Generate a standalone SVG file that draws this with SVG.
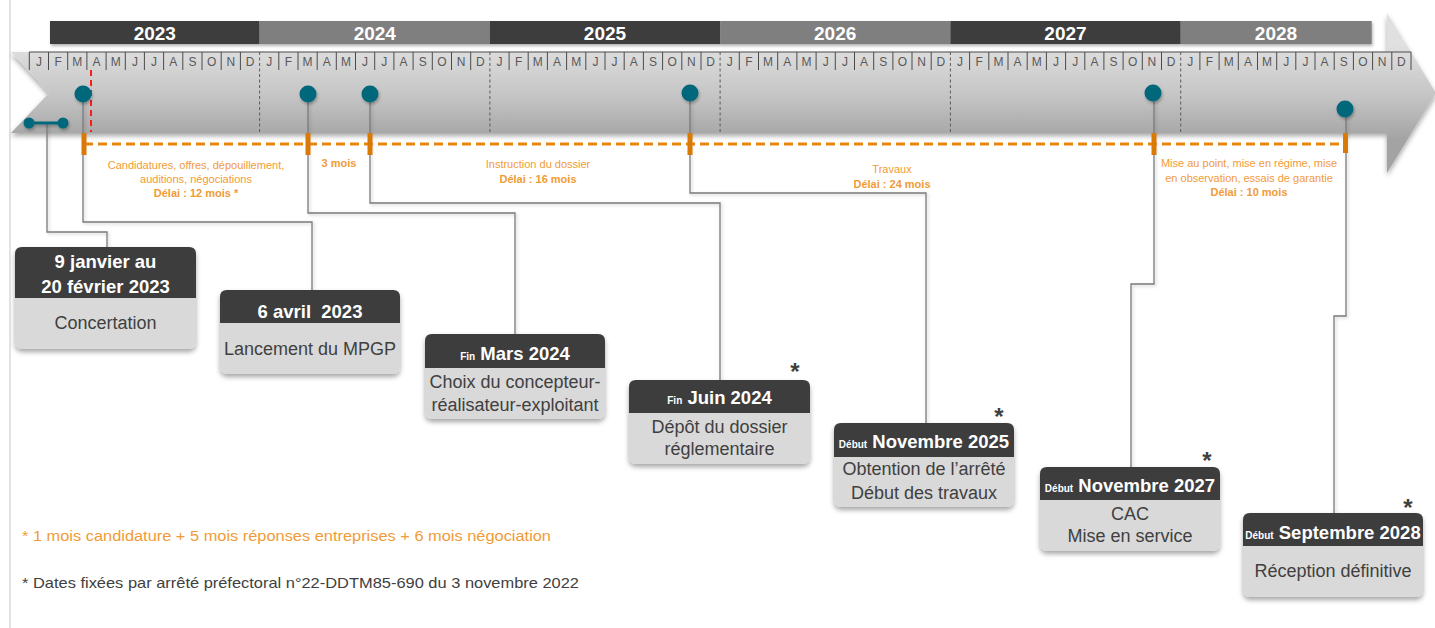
<svg xmlns="http://www.w3.org/2000/svg" width="1435" height="628" viewBox="0 0 1435 628">
<defs>
<linearGradient id="gArrow" gradientUnits="userSpaceOnUse" x1="0" y1="45" x2="0" y2="140">
<stop offset="0" stop-color="#e0e0e0"/>
<stop offset="0.55" stop-color="#c4c4c4"/>
<stop offset="1" stop-color="#a3a3a3"/>
</linearGradient>
<filter id="sh" x="-10%" y="-10%" width="120%" height="140%"><feDropShadow dx="0" dy="3" stdDeviation="2.5" flood-color="#000" flood-opacity="0.35"/></filter>
<filter id="shs" x="-30%" y="-30%" width="160%" height="160%"><feDropShadow dx="1" dy="2" stdDeviation="1.5" flood-color="#000" flood-opacity="0.3"/></filter>
<filter id="shl" x="-20%" y="-5%" width="140%" height="110%"><feDropShadow dx="1.5" dy="1.5" stdDeviation="1.5" flood-color="#000" flood-opacity="0.2"/></filter>
</defs>
<style>
text{font-family:'Liberation Sans',Arial,sans-serif}
.yr{font-weight:bold;font-size:19px;fill:#fff;text-anchor:middle}
.mo{font-size:12px;fill:#595959;text-anchor:middle}
.or{font-size:11px;fill:#f19b37;text-anchor:middle}
.b{font-weight:bold}
.ttl{font-weight:bold;font-size:18.5px;fill:#fff;text-anchor:middle}
.pre{font-size:10px}
.bd{font-size:18px;fill:#404040;text-anchor:middle}
.ast{font-weight:bold;font-size:24px;fill:#404040;text-anchor:middle}
.hd{fill:#3d3d3d}
.bx{fill:#d9d9d9}
.dot{fill:#05677a}
.tick{fill:#d97a06}
</style>
<rect x="0" y="0" width="1435" height="628" fill="#fff"/>
<line x1="10" y1="0" x2="10" y2="628" stroke="#c8c8c8" stroke-width="1"/>

<!-- timeline arrow -->
<g id="timeline">
<polygon points="11,52 1387,52 1387,13 1436,93 1387,173 1387,133 11,133 49,93" fill="url(#gArrow)" filter="url(#sh)"/>
<g filter="url(#shs)">
<rect x="50" y="21" width="209.6" height="23" fill="#3d3d3d"/>
<rect x="259.6" y="21" width="230.3" height="23" fill="#7f7f7f"/>
<rect x="489.9" y="21" width="230.2" height="23" fill="#3d3d3d"/>
<rect x="720.1" y="21" width="230.3" height="23" fill="#7f7f7f"/>
<rect x="950.4" y="21" width="230.3" height="23" fill="#3d3d3d"/>
<rect x="1180.7" y="21" width="191" height="23" fill="#7f7f7f"/>
</g>
<text class="yr" x="154.8" y="40">2023</text>
<text class="yr" x="374.8" y="40">2024</text>
<text class="yr" x="605" y="40">2025</text>
<text class="yr" x="835.2" y="40">2026</text>
<text class="yr" x="1065.5" y="40">2027</text>
<text class="yr" x="1276" y="40">2028</text>
<path d="M29.3,52 H1411" stroke="#4a4a4a" stroke-width="1" fill="none"/>
<path d="M29.3,52V70M48.5,52V70M67.7,52V70M86.9,52V70M106.1,52V70M125.3,52V70M144.4,52V70M163.6,52V70M182.8,52V70M202,52V70M221.2,52V70M240.4,52V70M278.8,52V70M298,52V70M317.2,52V70M336.3,52V70M355.5,52V70M374.7,52V70M393.9,52V70M413.1,52V70M432.3,52V70M451.5,52V70M470.7,52V70M509.1,52V70M528.2,52V70M547.4,52V70M566.6,52V70M585.8,52V70M605,52V70M624.2,52V70M643.4,52V70M662.6,52V70M681.8,52V70M701,52V70M739.3,52V70M758.5,52V70M777.7,52V70M796.9,52V70M816.1,52V70M835.3,52V70M854.5,52V70M873.7,52V70M892.9,52V70M912,52V70M931.2,52V70M969.6,52V70M988.8,52V70M1008,52V70M1027.2,52V70M1046.4,52V70M1065.6,52V70M1084.8,52V70M1103.9,52V70M1123.1,52V70M1142.3,52V70M1161.5,52V70M1199.9,52V70M1219.1,52V70M1238.3,52V70M1257.5,52V70M1276.7,52V70M1295.8,52V70M1315,52V70M1334.2,52V70M1353.4,52V70M1372.6,52V70M1391.8,52V70M1411,52V70" stroke="#4a4a4a" stroke-width="1" fill="none"/>
<path d="M259.6,52V133M489.9,52V133M720.1,52V133M950.4,52V133M1180.7,52V133" stroke="#5a5a5a" stroke-width="1" stroke-dasharray="3 2.5" fill="none"/>
<text class="mo" x="38.9" y="66">J</text><text class="mo" x="58.1" y="66">F</text><text class="mo" x="77.3" y="66">M</text><text class="mo" x="96.5" y="66">A</text><text class="mo" x="115.7" y="66">M</text><text class="mo" x="134.9" y="66">J</text><text class="mo" x="154" y="66">J</text><text class="mo" x="173.2" y="66">A</text><text class="mo" x="192.4" y="66">S</text><text class="mo" x="211.6" y="66">O</text><text class="mo" x="230.8" y="66">N</text><text class="mo" x="250" y="66">D</text>
<text class="mo" x="269.2" y="66">J</text><text class="mo" x="288.4" y="66">F</text><text class="mo" x="307.6" y="66">M</text><text class="mo" x="326.8" y="66">A</text><text class="mo" x="345.9" y="66">M</text><text class="mo" x="365.1" y="66">J</text><text class="mo" x="384.3" y="66">J</text><text class="mo" x="403.5" y="66">A</text><text class="mo" x="422.7" y="66">S</text><text class="mo" x="441.9" y="66">O</text><text class="mo" x="461.1" y="66">N</text><text class="mo" x="480.3" y="66">D</text>
<text class="mo" x="499.5" y="66">J</text><text class="mo" x="518.7" y="66">F</text><text class="mo" x="537.8" y="66">M</text><text class="mo" x="557" y="66">A</text><text class="mo" x="576.2" y="66">M</text><text class="mo" x="595.4" y="66">J</text><text class="mo" x="614.6" y="66">J</text><text class="mo" x="633.8" y="66">A</text><text class="mo" x="653" y="66">S</text><text class="mo" x="672.2" y="66">O</text><text class="mo" x="691.4" y="66">N</text><text class="mo" x="710.6" y="66">D</text>
<text class="mo" x="729.7" y="66">J</text><text class="mo" x="748.9" y="66">F</text><text class="mo" x="768.1" y="66">M</text><text class="mo" x="787.3" y="66">A</text><text class="mo" x="806.5" y="66">M</text><text class="mo" x="825.7" y="66">J</text><text class="mo" x="844.9" y="66">J</text><text class="mo" x="864.1" y="66">A</text><text class="mo" x="883.3" y="66">S</text><text class="mo" x="902.5" y="66">O</text><text class="mo" x="921.6" y="66">N</text><text class="mo" x="940.8" y="66">D</text>
<text class="mo" x="960" y="66">J</text><text class="mo" x="979.2" y="66">F</text><text class="mo" x="998.4" y="66">M</text><text class="mo" x="1017.6" y="66">A</text><text class="mo" x="1036.8" y="66">M</text><text class="mo" x="1056" y="66">J</text><text class="mo" x="1075.2" y="66">J</text><text class="mo" x="1094.4" y="66">A</text><text class="mo" x="1113.5" y="66">S</text><text class="mo" x="1132.7" y="66">O</text><text class="mo" x="1151.9" y="66">N</text><text class="mo" x="1171.1" y="66">D</text>
<text class="mo" x="1190.3" y="66">J</text><text class="mo" x="1209.5" y="66">F</text><text class="mo" x="1228.7" y="66">M</text><text class="mo" x="1247.9" y="66">A</text><text class="mo" x="1267.1" y="66">M</text><text class="mo" x="1286.3" y="66">J</text><text class="mo" x="1305.4" y="66">J</text><text class="mo" x="1324.6" y="66">A</text><text class="mo" x="1343.8" y="66">S</text><text class="mo" x="1363" y="66">O</text><text class="mo" x="1382.2" y="66">N</text><text class="mo" x="1401.4" y="66">D</text>
<line x1="91" y1="70" x2="91" y2="132" stroke="#ff1a1a" stroke-width="2" stroke-dasharray="6 4"/>
</g>

<!-- connectors -->
<g id="connectors" fill="none" stroke="#7a7a7a" stroke-width="1.3" filter="url(#shl)">
<path d="M47,123 V232 H107 V247"/>
<path d="M83,94 V222 H312 V290"/>
<path d="M308,94 V213 H515 V334"/>
<path d="M370,94 V203 H720 V380"/>
<path d="M690,93 V193 H926 V423"/>
<path d="M1154,93 V284 H1131 V467"/>
<path d="M1346,109 V316 H1334 V513"/>
</g>

<!-- phase line -->
<g id="phases">
<line x1="84" y1="144" x2="1345" y2="144" stroke="#e8850c" stroke-width="3" stroke-dasharray="9 5"/>
<rect class="tick" x="81.5" y="133" width="5" height="22"/>
<rect class="tick" x="305.5" y="133" width="5" height="22"/>
<rect class="tick" x="367.5" y="133" width="5" height="22"/>
<rect class="tick" x="687.5" y="133" width="5" height="22"/>
<rect class="tick" x="1151.5" y="133" width="5" height="22"/>
<rect class="tick" x="1343" y="133" width="5" height="20"/>
<text class="or" x="196" y="169">Candidatures, offres, dépouillement,</text>
<text class="or" x="196" y="183">auditions, négociations</text>
<text class="or b" x="196" y="197">Délai : 12 mois *</text>
<text class="or b" x="339" y="167">3 mois</text>
<text class="or" x="538" y="168">Instruction du dossier</text>
<text class="or b" x="538" y="183">Délai : 16 mois</text>
<text class="or" x="892" y="173">Travaux</text>
<text class="or b" x="892" y="188">Délai : 24 mois</text>
<text class="or" x="1249" y="167">Mise au point, mise en régime, mise</text>
<text class="or" x="1249" y="182">en observation, essais de garantie</text>
<text class="or b" x="1249" y="196">Délai : 10 mois</text>
</g>

<!-- milestones dots -->
<g id="dots" filter="url(#shs)">
<line x1="29" y1="123" x2="63" y2="123" stroke="#05677a" stroke-width="3"/>
<circle class="dot" cx="29" cy="123" r="5.5"/>
<circle class="dot" cx="63" cy="123" r="5.5"/>
<circle class="dot" cx="83" cy="94" r="8.5"/>
<circle class="dot" cx="308" cy="94" r="8.5"/>
<circle class="dot" cx="370" cy="94" r="8.5"/>
<circle class="dot" cx="690" cy="93" r="8.5"/>
<circle class="dot" cx="1153" cy="93" r="8.5"/>
<circle class="dot" cx="1345" cy="109" r="8.5"/>
</g>

<g id="n1">
<rect class="bx" x="15" y="247" width="181" height="102" rx="7" filter="url(#sh)"/>
<path class="hd" d="M15,298 V254 Q15,247 22,247 H189 Q196,247 196,254 V298 Z"/>
<text class="ttl" x="105.5" y="268">9 janvier au</text>
<text class="ttl" x="105.5" y="293">20 février 2023</text>
<text class="bd" x="105.5" y="329">Concertation</text>
</g>

<g id="n2">
<rect class="bx" x="220" y="290" width="180" height="84" rx="7" filter="url(#sh)"/>
<path class="hd" d="M220,323 V297 Q220,290 227,290 H393 Q400,290 400,297 V323 Z"/>
<text class="ttl" x="310" y="318" xml:space="preserve">6 avril  2023</text>
<text class="bd" x="310" y="355">Lancement du MPGP</text>
</g>

<g id="n3">
<rect class="bx" x="425" y="334" width="180" height="85" rx="7" filter="url(#sh)"/>
<path class="hd" d="M425,368 V341 Q425,334 432,334 H598 Q605,334 605,341 V368 Z"/>
<text class="ttl" x="515" y="360"><tspan class="pre">Fin</tspan> Mars 2024</text>
<text class="bd" x="515" y="388">Choix du concepteur-</text>
<text class="bd" x="515" y="411">réalisateur-exploitant</text>
</g>

<g id="n4">
<rect class="bx" x="629" y="380" width="181" height="84" rx="7" filter="url(#sh)"/>
<path class="hd" d="M629,413 V387 Q629,380 636,380 H803 Q810,380 810,387 V413 Z"/>
<text class="ttl" x="719.5" y="404"><tspan class="pre">Fin</tspan> Juin 2024</text>
<text class="bd" x="719.5" y="433">Dépôt du dossier</text>
<text class="bd" x="719.5" y="455">réglementaire</text>
<text class="ast" x="795" y="380">*</text>
</g>

<g id="n5">
<rect class="bx" x="834" y="423" width="180" height="84" rx="7" filter="url(#sh)"/>
<path class="hd" d="M834,457 V430 Q834,423 841,423 H1007 Q1014,423 1014,430 V457 Z"/>
<text class="ttl" x="924" y="448"><tspan class="pre">Début</tspan> Novembre 2025</text>
<text class="bd" x="924" y="475">Obtention de l’arrêté</text>
<text class="bd" x="924" y="499">Début des travaux</text>
<text class="ast" x="999" y="425">*</text>
</g>

<g id="n6">
<rect class="bx" x="1040" y="467" width="180" height="84" rx="7" filter="url(#sh)"/>
<path class="hd" d="M1040,500 V474 Q1040,467 1047,467 H1213 Q1220,467 1220,474 V500 Z"/>
<text class="ttl" x="1130" y="492"><tspan class="pre">Début</tspan> Novembre 2027</text>
<text class="bd" x="1130" y="520">CAC</text>
<text class="bd" x="1130" y="542">Mise en service</text>
<text class="ast" x="1207" y="469">*</text>
</g>

<g id="n7">
<rect class="bx" x="1243" y="513" width="180" height="84" rx="7" filter="url(#sh)"/>
<path class="hd" d="M1243,546 V520 Q1243,513 1250,513 H1416 Q1423,513 1423,520 V546 Z"/>
<text class="ttl" x="1333" y="539"><tspan class="pre">Début</tspan> Septembre 2028</text>
<text class="bd" x="1333" y="577">Réception définitive</text>
<text class="ast" x="1408" y="516">*</text>
</g>

<g id="notes">
<text x="22" y="541" font-size="15.5" fill="#f19b37" textLength="529" lengthAdjust="spacingAndGlyphs">* 1 mois candidature + 5 mois réponses entreprises + 6 mois négociation</text>
<text x="22" y="588" font-size="15" fill="#404040" textLength="557" lengthAdjust="spacingAndGlyphs">* Dates fixées par arrêté préfectoral n°22-DDTM85-690 du 3 novembre 2022</text>
</g>
</svg>
